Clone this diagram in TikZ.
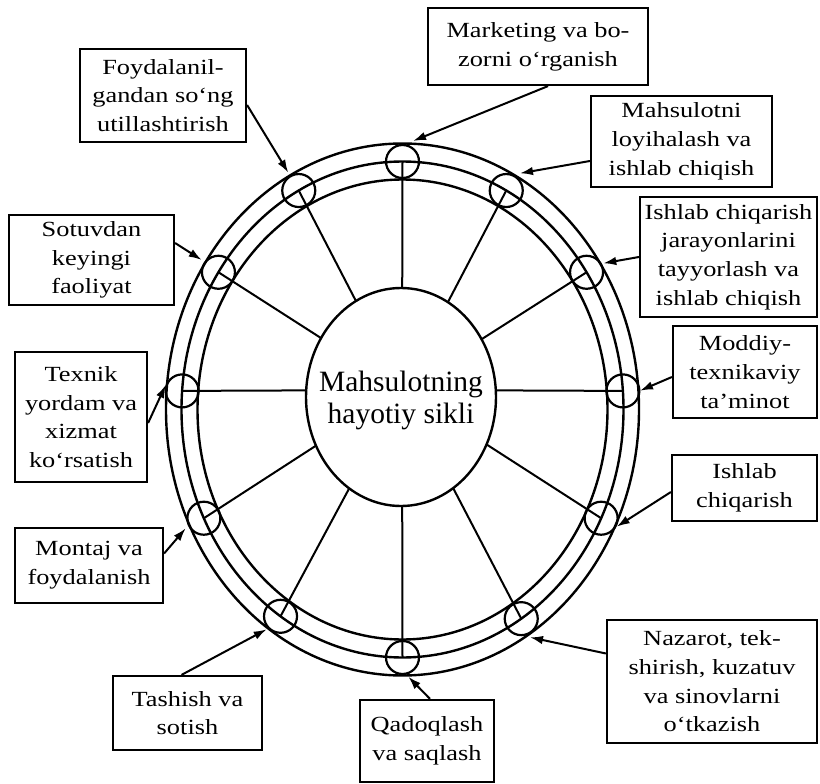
\documentclass[tikz,border=0pt]{standalone}
\usepackage{fontspec}
\setmainfont{Liberation Serif}
\newfontfamily\boxfont[FakeStretch=1.22]{Liberation Serif}
\usetikzlibrary{arrows.meta,calc,shapes.geometric}
\begin{document}
\begin{tikzpicture}[x=1pt,y=-1pt,
  ring/.style={line width=2.4pt},
  dot/.style={circle,draw,line width=2.2pt,minimum size=33pt,inner sep=0pt},
  spoke/.style={line width=2pt},
  hubellipse/.style={ellipse,draw,fill=white,line width=2.4pt,minimum width=190pt,minimum height=218pt,inner sep=0pt},
  ctrtext/.style={align=center,inner sep=0pt,font=\fontsize{29.5}{31.6}\selectfont},
  lbl/.style={draw,fill=white,line width=2.2pt,inner sep=0pt,align=center,font=\boxfont\fontsize{21.6}{28.7}\selectfont},
  arr/.style={line width=2pt,-{Latex[length=13pt,width=8.5pt]}},
]
\useasboundingbox (0,0) rectangle (820,784);
\coordinate (O) at (402.5,409.5);
\coordinate (hub) at (402,390);
% rings
\draw[ring] (O) ellipse [x radius=236.5pt,y radius=266pt];
\draw[ring] (O) ellipse [x radius=221pt,y radius=248pt];
\draw[ring] (O) ellipse [x radius=205pt,y radius=230pt];
% small circles on the middle ring
\foreach \n/\a in {c1/-90,c2/-62,c3/-33.6,c4/-4.3,c5/26,c6/57.5,c7/90,c8/123.5,c9/154,c10/184.3,c11/213.6,c12/242}
  \node[dot] (\n) at ($(O)+(\a:221 and 248)$) {};
% spokes
\foreach \n in {c1,c2,c3,c4,c5,c6,c7,c8,c9,c10,c11,c12}
  \draw[spoke] (hub) -- (\n.center);
% hub
\node[hubellipse] (hubE) at (401,397) {};
\node[ctrtext] (title) at (401,400.7) {Mahsulotning\\hayotiy sikli};
% label boxes
\node[lbl,minimum width=220pt,minimum height=77pt] (mkt) at (538,46.5) {Marketing va bo-\\zorni o‘rganish};
\node[lbl,minimum width=181pt,minimum height=91pt] (mah) at (681.5,141.5) {Mahsulotni\\loyihalash va\\ishlab chiqish};
\node[lbl,minimum width=177pt,minimum height=120pt] (ijr) at (728.5,257) {Ishlab chiqarish\\jarayonlarini\\tayyorlash va\\ishlab chiqish};
\node[lbl,minimum width=144pt,minimum height=92pt] (mod) at (745,372) {Moddiy-\\texnikaviy\\ta’minot};
\node[lbl,minimum width=145pt,minimum height=66pt] (ich) at (744.5,488) {Ishlab\\chiqarish};
\node[lbl,minimum width=210pt,minimum height=123pt] (naz) at (712,681.5) {Nazarot, tek-\\shirish, kuzatuv\\va sinovlarni\\o‘tkazish};
\node[lbl,minimum width=134pt,minimum height=82pt] (qad) at (427,741) {Qadoqlash\\va saqlash};
\node[lbl,minimum width=149pt,minimum height=74pt] (tas) at (187.5,713) {Tashish va\\sotish};
\node[lbl,minimum width=148pt,minimum height=75pt] (mon) at (89,565.5) {Montaj va\\foydalanish};
\node[lbl,minimum width=132pt,minimum height=130pt] (tex) at (81,417) {Texnik\\yordam va\\xizmat\\ko‘rsatish};
\node[lbl,minimum width=165pt,minimum height=90pt] (sot) at (91.5,260) {Sotuvdan\\keyingi\\faoliyat};
\node[lbl,minimum width=166pt,minimum height=93pt] (foy) at (163,95.5) {Foydalanil-\\gandan so‘ng\\utillashtirish};
% arrow tips
\coordinate (t1) at (413,141);
\coordinate (t2) at (520,173.3);
\coordinate (t3) at (603.3,263.3);
\coordinate (t4) at (640,390.7);
\coordinate (t5) at (616.7,526.7);
\coordinate (t6) at (530,637.3);
\coordinate (t7) at (408.3,676.7);
\coordinate (t8) at (266.7,629.3);
\coordinate (t9) at (185.7,528.3);
\coordinate (t10) at (165.7,385);
\coordinate (t11) at (201.7,260);
\coordinate (t12) at (288.3,172.7);
% arrows
\draw[arr] ([xshift=10pt]mkt.south) -- (t1);
\draw[arr] ([yshift=-19.5pt]mah.west) -- (t2);
\draw[arr] (ijr.west) -- (t3);
\draw[arr] ([yshift=-5pt]mod.west) -- (t4);
\draw[arr] ([yshift=-4pt]ich.west) -- (t5);
\draw[arr] ([yshift=28pt]naz.west) -- (t6);
\draw[arr] ([xshift=3pt]qad.north) -- (t7);
\draw[arr] ([xshift=-6pt]tas.north) -- (t8);
\draw[arr] ([yshift=12pt]mon.east) -- (t9);
\draw[arr] ([yshift=-6pt]tex.east) -- (t10);
\draw[arr] ([yshift=17pt]sot.east) -- (t11);
\draw[arr] ([yshift=-9.5pt]foy.east) -- (t12);
\end{tikzpicture}
\end{document}
